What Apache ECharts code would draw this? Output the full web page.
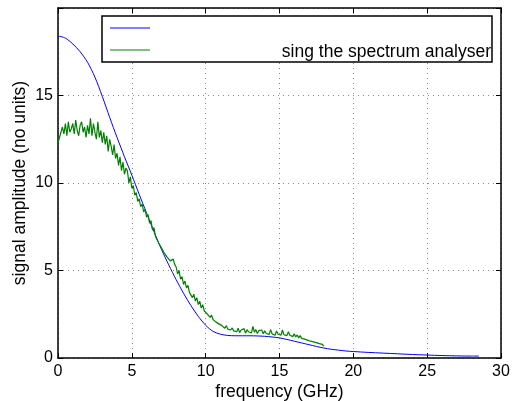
<!DOCTYPE html>
<html>
  <head>
    <meta charset="utf-8" />
    <script src="https://cdn.jsdelivr.net/npm/echarts@6/dist/echarts.min.js"></script>
    <style>
      * { margin: 0; padding: 0; }
      body { background: #fff; }
    </style>
  </head>
  <body>
    <div id="main" style="width: 512px; height: 401px"></div>
    <script>
      // model curve (blue)
      let blueFreq = [0, 0.5, 1, 1.5, 2, 2.5, 3, 3.5, 4, 4.5, 5, 5.5, 6, 6.5, 7, 7.5, 8, 8.5, 9, 9.5,
        10, 10.5, 11, 11.5, 12, 12.5, 13, 13.5, 14, 14.5, 15, 15.5, 16, 16.5, 17, 17.5, 18, 18.5,
        19, 19.5, 20, 21, 22, 23, 24, 25, 26, 27, 28, 28.5];
      let blueAmp = [18.4, 18.28, 17.95, 17.5, 16.9, 16.05, 14.95, 13.75, 12.6, 11.5, 10.45, 9.35, 8.28,
        7.22, 6.22, 5.32, 4.48, 3.7, 3.0, 2.38, 1.87, 1.52, 1.36, 1.29, 1.27, 1.27, 1.27, 1.26, 1.24,
        1.2, 1.15, 1.06, 0.96, 0.86, 0.76, 0.66, 0.57, 0.5, 0.45, 0.4, 0.37, 0.32, 0.28, 0.24, 0.2,
        0.17, 0.14, 0.12, 0.11, 0.11];

      // measured (green), sampled every 0.1 GHz from 0 to 18
      let greenStep = 0.1;
      let greenAmp = [
        12.3, 12.6, 12.5, 13.2, 12.8, 13.4, 12.7, 13.5, 12.9, 13.1,
        13.4, 12.8, 13.6, 13.0, 12.7, 13.3, 13.5, 12.9, 13.2, 12.6,
        13.3, 12.8, 13.7, 12.7, 13.4, 12.9, 12.5, 13.5, 12.6, 13.0,
        12.3, 12.9, 12.2, 12.7, 11.8, 12.5, 12.1, 11.6, 12.2, 11.4,
        11.7, 11.0, 11.5, 10.7, 11.2, 10.5, 10.85, 10.7, 10.0, 10.35,
        9.7, 9.85, 9.3, 9.45, 8.95, 9.1, 8.65, 8.8, 8.35, 8.5,
        8.05, 8.2, 7.7, 7.85, 7.3, 7.45, 6.95, 7.05, 6.6, 6.7,
        6.3, 6.35, 6.0, 6.1, 5.75, 5.85, 5.55, 5.45, 5.65, 5.35,
        5.2, 4.8, 5.0, 4.5, 4.65, 4.2, 4.4, 4.0, 4.15, 3.75,
        3.85, 3.45, 3.65, 3.25, 3.45, 3.05, 3.25, 2.85, 3.05, 2.7,
        2.8, 2.52, 2.62, 2.32, 2.45, 2.2, 2.3, 2.05, 2.15, 1.95,
        2.05, 1.85, 1.9, 1.7, 1.85, 1.65, 1.75, 1.6, 1.72, 1.55,
        1.65, 1.5, 1.7, 1.45, 1.6, 1.52, 1.68, 1.42, 1.62, 1.5,
        1.58, 1.43, 1.8, 1.48, 1.62, 1.4, 1.56, 1.45, 1.6, 1.38,
        1.55, 1.4, 1.5, 1.35, 1.62, 1.38, 1.48, 1.3, 1.55, 1.36,
        1.45, 1.3, 1.6, 1.33, 1.42, 1.28, 1.5, 1.3, 1.4, 1.22,
        1.38, 1.2, 1.32, 1.15, 1.28, 1.12, 1.22, 1.08, 1.18, 1.02,
        1.1, 0.96, 1.06, 0.92, 1.02, 0.88, 0.96, 0.82, 0.9, 0.78,
        0.68
      ];
      let legendText = "sing the spectrum analyser";

      let blueData = blueFreq.map((f, i) => [f, blueAmp[i]]);
      let greenData = greenAmp.map((v, i) => [+(i * greenStep).toFixed(2), v]);

      let font = "Liberation Sans, Arial, sans-serif";
      let lbl = { color: "#000", fontSize: 16, fontFamily: font };
      let nameStyle = { color: "#000", fontSize: 17.5, fontFamily: font };
      let tick = { show: true, inside: true, length: 5, lineStyle: { color: "#000" } };
      let frame = { show: true, onZero: false, lineStyle: { color: "#000", width: 1.5 } };
      let dotted = { show: true, lineStyle: { color: "#888", type: [1, 4] } };

      let myChart = echarts.init(document.getElementById("main"));
      let option = {
        animation: false,
        grid: { left: 58, right: 11, top: 8, bottom: 43, containLabel: false, outerBoundsMode: "none" },
        xAxis: [
          {
            type: "value", min: 0, max: 30, interval: 5,
            name: "frequency (GHz)", nameLocation: "middle", nameGap: 25, nameMoveOverlap: false,
            nameTextStyle: nameStyle,
            axisLine: frame, axisTick: tick,
            axisLabel: Object.assign({ margin: 6 }, lbl),
            splitLine: dotted
          },
          {
            type: "value", min: 0, max: 30, interval: 5, position: "top",
            axisLine: frame, axisTick: tick,
            axisLabel: { show: false }, splitLine: { show: false }
          }
        ],
        yAxis: [
          {
            type: "value", min: 0, max: 20, interval: 5,
            name: "signal amplitude (no units)", nameLocation: "middle", nameGap: 29, nameMoveOverlap: false,
            nameTextStyle: nameStyle,
            axisLine: frame, axisTick: tick,
            axisLabel: Object.assign({ margin: 5, formatter: v => (v === 20 ? "" : v) }, lbl),
            splitLine: dotted
          },
          {
            type: "value", min: 0, max: 20, interval: 5, position: "right",
            axisLine: frame, axisTick: tick,
            axisLabel: { show: false }, splitLine: { show: false }
          }
        ],
        series: [
          {
            type: "line", data: blueData, showSymbol: false, smooth: 0.3,
            lineStyle: { color: "#0000ff", width: 1 }, z: 3
          },
          {
            type: "line", data: greenData, showSymbol: false,
            lineStyle: { color: "#008000", width: 1.2 }, z: 4
          }
        ],
        graphic: [
          {
            type: "rect", shape: { x: 102, y: 16, width: 390, height: 46 },
            style: { fill: "#fff", stroke: "#000", lineWidth: 1.5 }, z: 10
          },
          {
            type: "line", shape: { x1: 110, y1: 28, x2: 150, y2: 28 },
            style: { stroke: "#0000ff", lineWidth: 1 }, z: 11
          },
          {
            type: "line", shape: { x1: 110, y1: 50, x2: 150, y2: 50 },
            style: { stroke: "#008000", lineWidth: 1 }, z: 11
          },
          {
            type: "text", x: 491, y: 52,
            style: { text: legendText, fill: "#000", fontSize: 17.5, fontFamily: font, align: "right", verticalAlign: "middle" },
            z: 11
          }
        ]
      };
      myChart.setOption(option);
    </script>
  </body>
</html>
